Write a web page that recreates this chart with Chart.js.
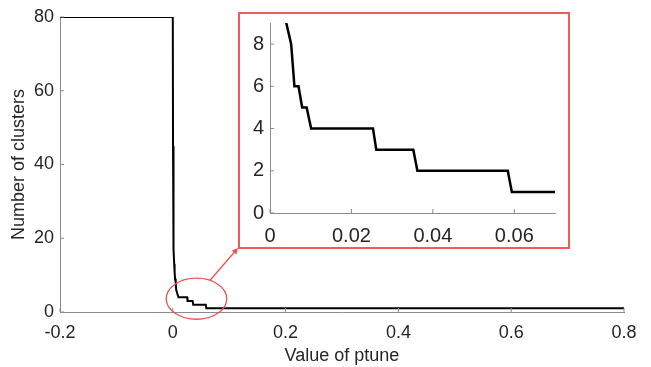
<!DOCTYPE html>
<html>
<head>
<meta charset="utf-8">
<script src="https://cdn.jsdelivr.net/npm/chart.js@4.4.1/dist/chart.umd.min.js"></script>
<style>
  html, body { margin: 0; padding: 0; background: #fff; }
  #wrap { position: relative; width: 651px; height: 367px; }
  #main { position: absolute; left: 0; top: 0; }
  #zoomBox {
    position: absolute; left: 238px; top: 12px; width: 328px; height: 233px;
    border: 2px solid rgb(242, 90, 90); background: #fff;
  }
  #inset { position: absolute; left: 0; top: 0; }
</style>
</head>
<body>
<div id="wrap">
  <canvas id="main" width="651" height="367"></canvas>
  <div id="zoomBox"><canvas id="inset" width="328" height="233"></canvas></div>
</div>
<script>
// waarden
const ptune = [-0.2, 0, 0.0004, 0.0008, 0.0012, 0.0018, 0.0025, 0.0032, 0.004, 0.0052, 0.006, 0.007, 0.0079, 0.009, 0.0101, 0.0253, 0.0261, 0.0352, 0.0362, 0.0584, 0.0594, 0.0693, 0.8];
const clusters = [80, 80, 45, 30, 22, 17, 13, 11, 9, 8, 6, 6, 5, 5, 4, 4, 3, 3, 2, 2, 1, 1, 1];

const mainXTicks = [-0.2, 0, 0.2, 0.4, 0.6, 0.8];
const mainYTicks = [0, 20, 40, 60, 80];
const insetXTicks = [0, 0.02, 0.04, 0.06];
const insetYTicks = [0, 2, 4, 6, 8];

const points = ptune.map((x, i) => ({ x: x, y: clusters[i] }));
const textColor = '#262626';
const axisColor = '#8c8c8c';
const red = 'rgb(238, 80, 80)';
const font = 'Liberation Sans, Arial, sans-serif';

function fmt(v) {
  return String(Math.round(v * 1000) / 1000);
}

// kleine tick-streepjes naar binnen, zoals in matlab
const innerTicks = {
  id: 'innerTicks',
  afterDraw(chart) {
    const ctx = chart.ctx;
    const a = chart.chartArea;
    const xs = chart.scales.x, ys = chart.scales.y;
    ctx.save();
    ctx.strokeStyle = axisColor;
    ctx.lineWidth = 1;
    ctx.beginPath();
    xs.ticks.forEach(t => {
      const px = xs.getPixelForValue(t.value);
      ctx.moveTo(px, a.bottom);
      ctx.lineTo(px, a.bottom - 4);
    });
    ys.ticks.forEach(t => {
      const py = ys.getPixelForValue(t.value);
      ctx.moveTo(a.left, py);
      ctx.lineTo(a.left + 4, py);
    });
    ctx.stroke();
    ctx.restore();
  }
};

// rode ellips en pijl naar het ingezoomde kader
const zoomMarker = {
  id: 'zoomMarker',
  afterDraw(chart) {
    const ctx = chart.ctx;
    const xs = chart.scales.x, ys = chart.scales.y;
    const cx = xs.getPixelForValue(0.042);
    const cy = ys.getPixelForValue(3.6);
    const rx = xs.getPixelForValue(0.042 + 0.0536) - cx;
    const ry = cy - ys.getPixelForValue(3.6 + 5.56);
    ctx.save();
    ctx.strokeStyle = red;
    ctx.fillStyle = red;
    ctx.lineWidth = 1.3;
    ctx.beginPath();
    ctx.ellipse(cx, cy, rx, ry, 0, 0, Math.PI * 2);
    ctx.stroke();
    // pijl
    const x0 = cx + rx * 0.45, y0 = cy - ry * 0.9;
    const x1 = 238, y1 = 248;
    const ang = Math.atan2(y1 - y0, x1 - x0);
    ctx.beginPath();
    ctx.moveTo(x0, y0);
    ctx.lineTo(x1 - 5 * Math.cos(ang), y1 - 5 * Math.sin(ang));
    ctx.stroke();
    ctx.beginPath();
    ctx.moveTo(x1, y1);
    ctx.lineTo(x1 - 6 * Math.cos(ang) + 3 * Math.sin(ang), y1 - 6 * Math.sin(ang) - 3 * Math.cos(ang));
    ctx.lineTo(x1 - 6 * Math.cos(ang) - 3 * Math.sin(ang), y1 - 6 * Math.sin(ang) + 3 * Math.cos(ang));
    ctx.closePath();
    ctx.fill();
    ctx.restore();
  }
};

function makeOptions(cfg) {
  return {
    responsive: false,
    animation: false,
    layout: { padding: cfg.padding },
    plugins: { legend: { display: false }, tooltip: { enabled: false } },
    scales: {
      x: {
        type: 'linear',
        min: cfg.xMin, max: cfg.xMax,
        afterBuildTicks: s => { s.ticks = cfg.xTicks.map(v => ({ value: v })); },
        afterFit: s => { s.height = cfg.xHeight; s.paddingLeft = 0; s.paddingRight = 0; },
        grid: { display: false, drawTicks: false },
        border: { display: true, color: axisColor, width: 1 },
        ticks: { color: textColor, font: { family: font, size: cfg.tickSize }, padding: cfg.xPad, maxRotation: 0, autoSkip: false, callback: v => fmt(v) },
        title: cfg.xTitle ? { display: true, text: cfg.xTitle, color: textColor, font: { family: font, size: 18 }, padding: { top: 0, bottom: 0 } } : { display: false }
      },
      y: {
        min: cfg.yMin, max: cfg.yMax,
        afterBuildTicks: s => { s.ticks = cfg.yTicks.map(v => ({ value: v })); },
        afterFit: s => { s.width = cfg.yWidth; s.paddingTop = 0; s.paddingBottom = 0; },
        grid: { display: false, drawTicks: false },
        border: { display: true, color: axisColor, width: 1 },
        ticks: { color: textColor, font: { family: font, size: cfg.tickSize }, padding: cfg.yPad, autoSkip: false, callback: v => fmt(v) },
        title: cfg.yTitle ? { display: true, text: cfg.yTitle, color: textColor, font: { family: font, size: 18 }, padding: { top: 8, bottom: 0 } } : { display: false }
      }
    }
  };
}

new Chart(document.getElementById('main'), {
  type: 'line',
  data: {
    datasets: [{
      data: points,
      borderColor: '#000',
      borderWidth: 2,
      pointRadius: 0,
      tension: 0,
      fill: false
    }]
  },
  options: makeOptions({
    padding: { top: 17, right: 27, left: 0, bottom: 0 },
    xMin: -0.2, xMax: 0.8, yMin: 0, yMax: 80,
    xTicks: mainXTicks, yTicks: mainYTicks,
    xHeight: 55, yWidth: 60, tickSize: 18, xPad: 10, yPad: 6,
    xTitle: 'Value of ptune', yTitle: 'Number of clusters'
  }),
  plugins: [innerTicks, zoomMarker]
});

new Chart(document.getElementById('inset'), {
  type: 'line',
  data: {
    datasets: [{
      data: points,
      borderColor: '#000',
      borderWidth: 2.5,
      pointRadius: 0,
      tension: 0,
      fill: false
    }]
  },
  options: makeOptions({
    padding: { top: 9, right: 13, left: 0, bottom: 0 },
    xMin: 0, xMax: 0.07, yMin: 0, yMax: 9,
    xTicks: insetXTicks, yTicks: insetYTicks,
    xHeight: 34, yWidth: 30, tickSize: 20, xPad: 11, yPad: 6
  }),
  plugins: [innerTicks]
});
</script>
</body>
</html>
